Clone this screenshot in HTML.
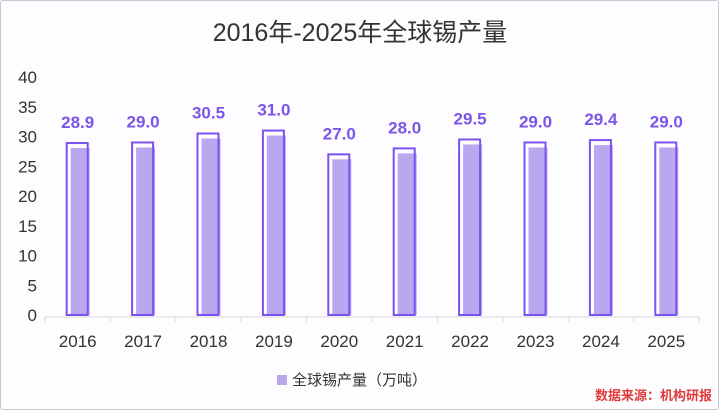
<!DOCTYPE html>
<html><head><meta charset="utf-8"><style>
html,body{margin:0;padding:0;background:#fff;}
#wrap{position:relative;width:717px;height:408px;border:1px solid #c8c8d0;border-radius:3px;background:#fdfdff;overflow:hidden;}
svg text{font-family:"Liberation Sans","Noto Sans CJK SC",sans-serif;}
</style></head><body>
<div id="wrap">
<svg id="chart" width="717" height="408">
<text x="359" y="40" text-anchor="middle" font-size="25" fill="#333">2016年-2025年全球锡产量</text>
<g id="axes"></g><g id="bars"></g>
<rect x="276" y="374" width="10" height="10" fill="#b9a8f0"/>
<text x="291" y="384" font-size="15" fill="#333">全球锡产量（万吨）</text>
<text x="711" y="399" text-anchor="end" font-size="13" font-weight="bold" fill="#e03a3a">数据来源：机构研报</text>
</svg></div>
<script>
const categories=["2016","2017","2018","2019","2020","2021","2022","2023","2024","2025"];
const values=[28.9,29.0,30.5,31.0,27.0,28.0,29.5,29.0,29.4,29.0];
const yTicks=[0,5,10,15,20,25,30,35,40];
const NS="http://www.w3.org/2000/svg";
const x0=44,x1=698,y0=314,yMax=40,pxPer=5.95;
const step=(x1-x0)/categories.length;
function xc(i){return x0+step*(i+0.5);}
function y(v){return y0-v*pxPer;}
function mk(t,a,p){const e=document.createElementNS(NS,t);for(const k in a)e.setAttribute(k,a[k]);p.appendChild(e);return e;}
const ax=document.getElementById('axes'),bg=document.getElementById('bars');
yTicks.forEach(v=>{const t=mk('text',{x:36,y:y(v)+6,'text-anchor':'end','font-size':17,fill:'#333'},ax);


t.textContent=v;});
const ln=mk('line',{x1:x0,y1:y0+2,x2:x1,y2:y0+2,stroke:'#d9d9d9','stroke-width':1},ax);


for(let i=0;i<=categories.length;i++){const tk=mk('line',{x1:x0+step*i,y1:y0+2,x2:x0+step*i,y2:y0+7,stroke:'#d9d9d9'},ax);

}
categories.forEach((c,i)=>{
const t=mk('text',{x:xc(i),y:346,'text-anchor':'middle','font-size':17,fill:'#333'},ax);


t.textContent=c;
const v=values[i],w=21,bx=xc(i)-11,top=y(v);
const f=mk('rect',{x:bx+4,y:top+5,width:w-2,height:y0-top-5,fill:'#b9a8f0'},bg);


const o=mk('rect',{x:bx,y:top,width:w,height:y0-top,fill:'none',stroke:'#7b52f0','stroke-width':2},bg);


const l=mk('text',{x:xc(i),y:top-15,'text-anchor':'middle','font-size':17,'font-weight':'bold',fill:'#7b55e8'},bg);


l.textContent=v.toFixed(1);
});
</script>
</body></html>
